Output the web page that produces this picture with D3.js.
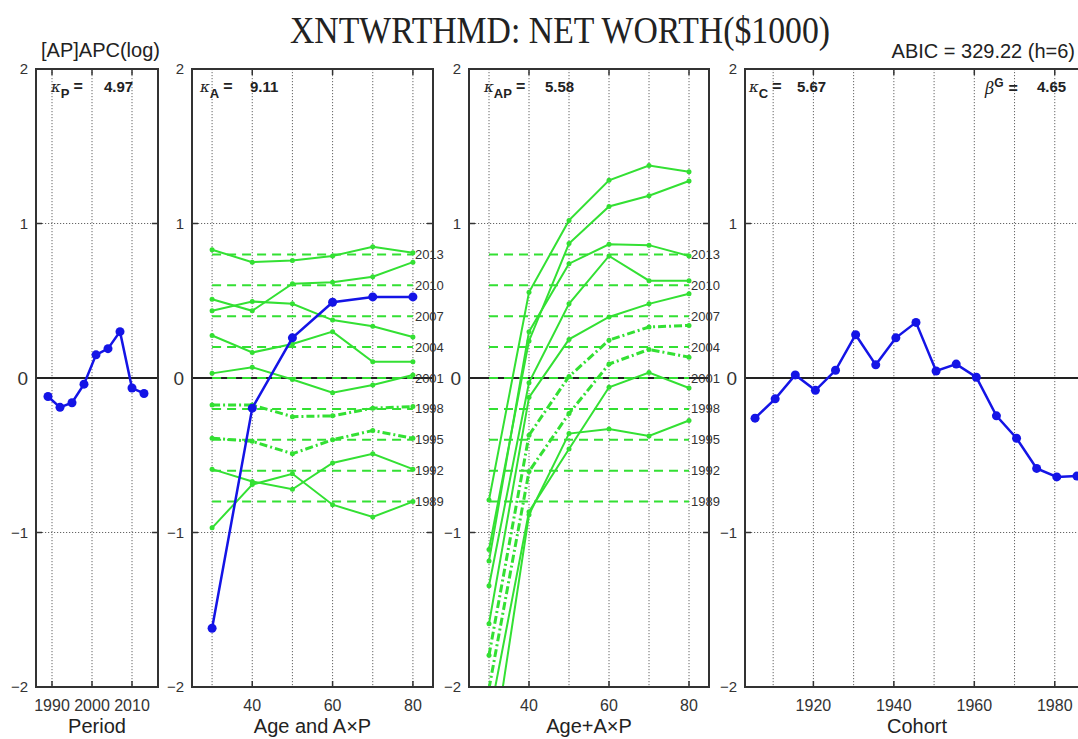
<!DOCTYPE html>
<html>
<head>
<meta charset="utf-8">
<script src="https://cdn.jsdelivr.net/npm/d3@7"></script>
<style>
  html, body { margin: 0; padding: 0; background: #fff; }
  svg { display: block; }
  text { font-family: "Liberation Sans", Arial, sans-serif; fill: #222; }
</style>
</head>
<body>
<svg id="chart" width="1078" height="739"></svg>
<script>
// ---- data ----
const periods = [1989, 1992, 1995, 1998, 2001, 2004, 2007, 2010, 2013];
const periodEffect = [-0.12, -0.19, -0.16, -0.04, 0.15, 0.19, 0.30, -0.065, -0.10];

const ages = [30, 40, 50, 60, 70, 80];
const ageEffect = [-1.62, -0.195, 0.26, 0.49, 0.525, 0.525];

// reference level of each period's A×P curve (dashed guide lines)
const periodOffsets = [-0.8, -0.6, -0.4, -0.2, 0, 0.2, 0.4, 0.6, 0.8];
// A×P curves by period (level included), over ages 30..80
const axp1989 = [-0.97, -0.69, -0.62, -0.82, -0.90, -0.80];
const axp1992 = [-0.59, -0.67, -0.72, -0.55, -0.49, -0.59];
const axp1995 = [-0.39, -0.41, -0.49, -0.40, -0.34, -0.39];
const axp1998 = [-0.175, -0.175, -0.25, -0.245, -0.195, -0.185];
const axp2001 = [0.03, 0.07, -0.01, -0.095, -0.045, 0.02];
const axp2004 = [0.275, 0.165, 0.22, 0.30, 0.105, 0.105];
const axp2007 = [0.435, 0.495, 0.48, 0.375, 0.335, 0.265];
const axp2010 = [0.51, 0.435, 0.61, 0.62, 0.655, 0.75];
const axp2013 = [0.83, 0.75, 0.76, 0.79, 0.85, 0.81];
const axpCurves = [axp1989, axp1992, axp1995, axp1998, axp2001, axp2004, axp2007, axp2010, axp2013];
const dashDotPeriods = [1995, 1998];

const cohorts = [1905.5, 1910.5, 1915.5, 1920.5, 1925.5, 1930.5, 1935.5, 1940.5, 1945.5,
                 1950.5, 1955.5, 1960.5, 1965.5, 1970.5, 1975.5, 1980.5, 1985.5];
const cohortEffect = [-0.26, -0.135, 0.02, -0.08, 0.05, 0.28, 0.085, 0.26, 0.36,
                      0.045, 0.09, 0.005, -0.245, -0.39, -0.585, -0.64, -0.635];

const yTicks = [-2, -1, 0, 1, 2];
const periodGrid = [1990, 2000, 2010], periodTicks = [1990, 2000, 2010];
const ageGrid = [30, 40, 50, 60, 70, 80], ageTicks = [40, 60, 80];
const cohortGrid = [1910, 1920, 1930, 1940, 1950, 1960, 1970, 1980], cohortTicks = [1920, 1940, 1960, 1980];

const titleText = "XNTWRTHMD: NET WORTH($1000)";
const leftHeader = "[AP]APC(log)";
const rightHeader = "ABIC = 329.22 (h=6)";

// ---- styling ----
const BLUE = "#1414e6";
const GREEN = "#33e033";
const FRAME = "#333";

const svg = d3.select("#chart");
const y = d3.scaleLinear().domain([-2, 2]).range([687, 69]);

const panels = [
  { id: "p1", x: d3.scaleLinear().domain([1986, 2016.5]).range([36, 158]), grid: periodGrid, ticks: periodTicks, title: "Period" },
  { id: "p2", x: d3.scaleLinear().domain([25, 85]).range([192, 433]), grid: ageGrid, ticks: ageTicks, title: "Age and A\u00d7P" },
  { id: "p3", x: d3.scaleLinear().domain([25, 85]).range([469, 709]), grid: ageGrid, ticks: ageTicks, title: "Age+A\u00d7P" },
  { id: "p4", x: d3.scaleLinear().domain([1903, 1990]).range([745, 1095]), grid: cohortGrid, ticks: cohortTicks, title: "Cohort" }
];

const defs = svg.append("defs");
panels.forEach(p => {
  const [x0, x1] = p.x.range();
  defs.append("clipPath").attr("id", "clip-" + p.id)
    .append("rect").attr("x", x0).attr("y", y(2)).attr("width", x1 - x0).attr("height", y(-2) - y(2));
});

function frame(p) {
  const g = svg.append("g");
  const [x0, x1] = p.x.range();
  const yT = y(2), yB = y(-2);
  // dotted grid
  g.selectAll(".vg").data(p.grid).join("line")
    .attr("x1", d => p.x(d)).attr("x2", d => p.x(d)).attr("y1", yT).attr("y2", yB)
    .attr("stroke", "#666").attr("stroke-width", 1).attr("stroke-dasharray", "1.2,1.8");
  g.selectAll(".hg").data([-1, 1]).join("line")
    .attr("x1", x0).attr("x2", x1).attr("y1", d => y(d)).attr("y2", d => y(d))
    .attr("stroke", "#666").attr("stroke-width", 1).attr("stroke-dasharray", "1.2,1.8");
  // tick marks
  p.ticks.forEach(t => {
    g.append("line").attr("x1", p.x(t)).attr("x2", p.x(t)).attr("y1", yB).attr("y2", yB - 6).attr("stroke", FRAME).attr("stroke-width", 1.5);
    g.append("line").attr("x1", p.x(t)).attr("x2", p.x(t)).attr("y1", yT).attr("y2", yT + 6).attr("stroke", FRAME).attr("stroke-width", 1.5);
  });
  yTicks.forEach(t => {
    g.append("line").attr("x1", x0).attr("x2", x0 + 6).attr("y1", y(t)).attr("y2", y(t)).attr("stroke", FRAME).attr("stroke-width", 1.5);
    g.append("line").attr("x1", x1).attr("x2", x1 - 6).attr("y1", y(t)).attr("y2", y(t)).attr("stroke", FRAME).attr("stroke-width", 1.5);
  });
  // zero line
  g.append("line").attr("x1", x0).attr("x2", x1).attr("y1", y(0)).attr("y2", y(0))
    .attr("stroke", "#222").attr("stroke-width", 2);
  // y tick labels
  g.selectAll(".yl").data(yTicks).join("text")
    .attr("x", x0 - 8).attr("y", d => y(d)).attr("dy", "0.35em")
    .attr("text-anchor", "end")
    .style("font-size", d => d === 0 ? "19px" : "15px")
    .style("fill", "#333")
    .text(d => d < 0 ? "\u2212" + Math.abs(d) : String(d));
  // x tick labels
  g.selectAll(".xl").data(p.ticks).join("text")
    .attr("x", d => p.x(d)).attr("y", 711).attr("text-anchor", "middle")
    .style("font-size", "16px").style("fill", "#333")
    .text(d => d);
  // axis title
  g.append("text").attr("x", p === panels[3] ? 917 : (x0 + x1) / 2).attr("y", 733)
    .attr("text-anchor", "middle").style("font-size", "20px").style("fill", "#222")
    .text(p.title);
  return g;
}

function border(p) {
  const [x0, x1] = p.x.range();
  svg.append("rect").attr("x", x0).attr("y", y(2)).attr("width", x1 - x0).attr("height", y(-2) - y(2))
    .attr("fill", "none").attr("stroke", FRAME).attr("stroke-width", 2);
}

panels.forEach(frame);

// ---- period panel ----
{
  const p = panels[0];
  const g = svg.append("g").attr("clip-path", "url(#clip-p1)");
  const pts = periods.map((d, i) => [p.x(d), y(periodEffect[i])]);
  g.append("path").attr("d", d3.line()(pts)).attr("fill", "none").attr("stroke", BLUE).attr("stroke-width", 2.5);
  g.selectAll("circle").data(pts).join("circle").attr("cx", d => d[0]).attr("cy", d => d[1]).attr("r", 4.5).attr("fill", BLUE);
}

// ---- A×P curves (panels 2 and 3) ----
function axpPanel(p, withAge) {
  const g = svg.append("g").attr("clip-path", "url(#clip-" + p.id + ")");
  const xa = p.x(30), xb = p.x(80);
  // dashed guide line per period
  g.selectAll(".ref").data(periodOffsets).join("line")
    .attr("x1", xa).attr("x2", xb).attr("y1", d => y(d)).attr("y2", d => y(d))
    .attr("stroke", GREEN).attr("stroke-width", 2).attr("stroke-dasharray", "9,6");
  periods.forEach((per, k) => {
    const vals = axpCurves[k].map((v, i) => withAge ? v + ageEffect[i] : v);
    const pts = ages.map((a, i) => [p.x(a), y(vals[i])]);
    const dd = dashDotPeriods.includes(per);
    g.append("path").attr("d", d3.line()(pts)).attr("fill", "none")
      .attr("stroke", GREEN).attr("stroke-width", dd ? 3 : 2)
      .attr("stroke-dasharray", dd ? "8,3,2,3" : null);
    g.selectAll(".m" + per).data(pts).join("circle")
      .attr("cx", d => d[0]).attr("cy", d => d[1]).attr("r", 2.5).attr("fill", GREEN);
  });
  return g;
}

const g2 = axpPanel(panels[1], false);
{
  const p = panels[1];
  const pts = ages.map((a, i) => [p.x(a), y(ageEffect[i])]);
  g2.append("path").attr("d", d3.line()(pts)).attr("fill", "none").attr("stroke", BLUE).attr("stroke-width", 2.5);
  g2.selectAll(".ab").data(pts).join("circle").attr("cx", d => d[0]).attr("cy", d => d[1]).attr("r", 4.5).attr("fill", BLUE);
}
axpPanel(panels[2], true);

// ---- cohort panel ----
{
  const p = panels[3];
  const g = svg.append("g").attr("clip-path", "url(#clip-p4)");
  const pts = cohorts.map((d, i) => [p.x(d), y(cohortEffect[i])]);
  g.append("path").attr("d", d3.line()(pts)).attr("fill", "none").attr("stroke", BLUE).attr("stroke-width", 2.5);
  g.selectAll("circle").data(pts).join("circle").attr("cx", d => d[0]).attr("cy", d => d[1]).attr("r", 4.5).attr("fill", BLUE);
}

panels.forEach(border);

// period labels next to the guide lines
[panels[1], panels[2]].forEach(p => {
  svg.append("g").selectAll("text").data(periods).join("text")
    .attr("x", p.x(80) + 2).attr("y", (d, i) => y(periodOffsets[i])).attr("dy", "0.35em")
    .style("font-size", "13px").style("fill", "#333")
    .text(d => d);
});

// ---- smoothing parameters inside panels ----
function kappa(x, sub, value, valueX) {
  const t = svg.append("text").attr("x", x).attr("y", 92).style("font-size", "16px");
  t.append("tspan").style("font-style", "italic").style("font-family", "'DejaVu Serif', serif").style("font-size", "15px").text("\u03ba");
  t.append("tspan").attr("dy", 6).style("font-size", "13px").style("font-weight", "bold").text(sub);
  t.append("tspan").attr("dy", -6).attr("dx", 4).style("font-weight", "bold").text("=");
  svg.append("text").attr("x", valueX).attr("y", 92).style("font-size", "15px").style("font-weight", "bold").text(value);
}
kappa(51, "P", "4.97", 104);
kappa(200, "A", "9.11", 250);
kappa(484, "AP", "5.58", 545);
kappa(749, "C", "5.67", 797);
{
  const t = svg.append("text").attr("x", 985).attr("y", 94).style("font-size", "16px");
  t.append("tspan").style("font-style", "italic").style("font-family", "'DejaVu Serif', serif").style("font-size", "16px").text("\u03b2");
  t.append("tspan").attr("dy", -7).style("font-size", "12px").style("font-weight", "bold").text("G");
  t.append("tspan").attr("dy", 7).attr("dx", 5).style("font-weight", "bold").text("=");
  svg.append("text").attr("x", 1037).attr("y", 92).style("font-size", "15px").style("font-weight", "bold").text("4.65");
}

// ---- headers ----
svg.append("text").attr("x", 290).attr("y", 43)
  .attr("textLength", 540).attr("lengthAdjust", "spacingAndGlyphs")
  .style("font-family", "'Liberation Serif', 'DejaVu Serif', serif").style("font-size", "38px").style("fill", "#222")
  .text(titleText);
svg.append("text").attr("x", 41).attr("y", 57).style("font-size", "20px").style("fill", "#222").text(leftHeader);
svg.append("text").attr("x", 1075).attr("y", 58).attr("text-anchor", "end").style("font-size", "20px").style("fill", "#222").text(rightHeader);
</script>
</body>
</html>
